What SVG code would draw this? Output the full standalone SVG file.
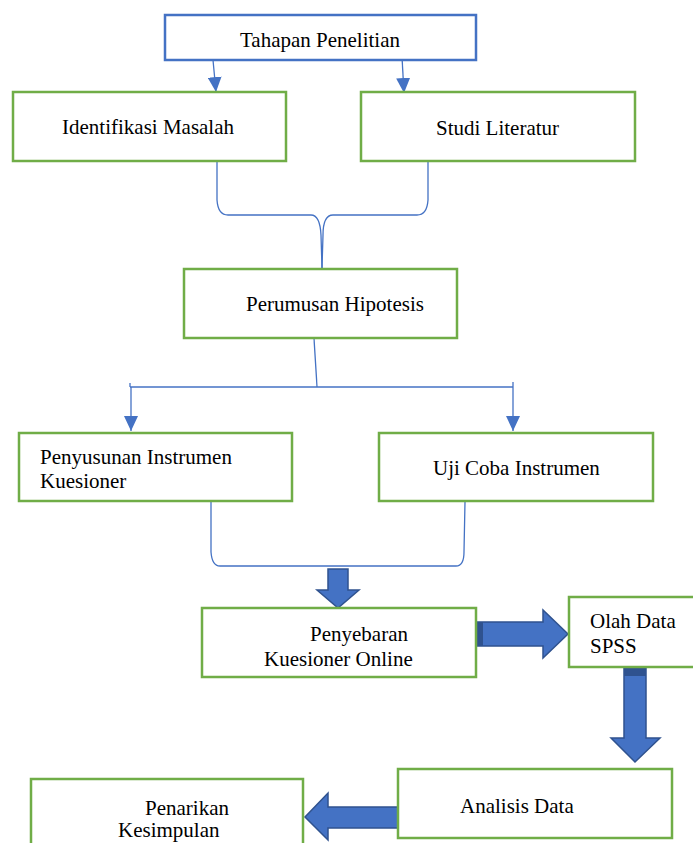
<svg xmlns="http://www.w3.org/2000/svg" width="693" height="843" viewBox="0 0 693 843">
<style>
.box{fill:#fff;stroke:#70AD47;stroke-width:2.5}
.bbox{fill:#fff;stroke:#4472C4;stroke-width:2.5}
.t{font-family:"Liberation Serif","Times New Roman","DejaVu Serif",serif;font-size:21px;fill:#000}
.ln{fill:none;stroke:#4472C4;stroke-width:1.3}
.blk{fill:#4472C4;stroke:#2F528F;stroke-width:1.5}
.dk{fill:#2F528F}
</style>
<defs>
<marker id="ah" markerWidth="16" markerHeight="14" refX="15" refY="7" orient="auto" markerUnits="userSpaceOnUse">
<path d="M0,0 L15,7 L0,14 Z" fill="#4472C4"/>
</marker>
</defs>
<rect width="693" height="843" fill="#fff"/>
<g id="connectors">
<line class="ln" x1="213" y1="60" x2="216" y2="92" marker-end="url(#ah)"/>
<line class="ln" x1="402" y1="57" x2="404" y2="93" marker-end="url(#ah)"/>
<path class="ln" d="M217,161 L217,200 Q218,215 228,215 L311,215 Q320,215 321,235 L322,268"/>
<path class="ln" d="M428,161 L428,200 Q427,215 417,215 L333,215 Q323,215 323,235 L322,268"/>
<line class="ln" x1="314" y1="338" x2="317" y2="387"/>
<line class="ln" x1="130" y1="387" x2="513" y2="387"/>
<line class="ln" x1="130" y1="383" x2="130" y2="387"/>
<line class="ln" x1="513" y1="382" x2="513" y2="387"/>
<line class="ln" x1="131" y1="387" x2="131" y2="431" marker-end="url(#ah)"/>
<line class="ln" x1="513" y1="387" x2="513" y2="431" marker-end="url(#ah)"/>
<path class="ln" d="M211,502 L211,552 Q212,566 220,566 L456,566 Q464,566 464,552 L465,502"/>
<path class="blk" d="M328,569 L348,569 L348,590 L359,590 L338,608 L317,590 L328,590 Z"/>
<path class="blk" d="M474,622 L543,622 L543,610 L568,634 L543,658 L543,646 L474,646 Z"/>
<rect class="dk" x="474" y="622" width="9" height="24"/>
<path class="blk" d="M624,667 L646,667 L646,738 L660,738 L635,762 L611,738 L624,738 Z"/>
<rect class="dk" x="624" y="667" width="22" height="9"/>
<path class="blk" d="M398,807 L398,828 L328,828 L328,840 L305,817 L328,793 L328,807 Z"/>
</g>
<g id="n-tahapan">
<rect class="bbox" x="165" y="15" width="311" height="45"/>
<text class="t" x="320" y="47" text-anchor="middle">Tahapan Penelitian</text>
</g>
<g id="n-identifikasi">
<rect class="box" x="13" y="92" width="273" height="69"/>
<text class="t" x="62" y="134">Identifikasi Masalah</text>
</g>
<g id="n-studi">
<rect class="box" x="361" y="92" width="274" height="69"/>
<text class="t" x="436" y="135">Studi Literatur</text>
</g>
<g id="n-perumusan">
<rect class="box" x="184" y="269" width="273" height="69"/>
<text class="t" x="246" y="311">Perumusan Hipotesis</text>
</g>
<g id="n-penyusunan">
<rect class="box" x="19" y="433" width="273" height="68"/>
<text class="t" x="40" y="464">Penyusunan Instrumen</text>
<text class="t" x="40" y="488">Kuesioner</text>
</g>
<g id="n-ujicoba">
<rect class="box" x="379" y="433" width="274" height="68"/>
<text class="t" x="433" y="475">Uji Coba Instrumen</text>
</g>
<g id="n-penyebaran">
<rect class="box" x="202" y="608" width="274" height="69"/>
<text class="t" x="310" y="641">Penyebaran</text>
<text class="t" x="264" y="666">Kuesioner Online</text>
</g>
<g id="n-olah">
<rect class="box" x="569" y="597" width="130" height="70"/>
<text class="t" x="590" y="628">Olah Data</text>
<text class="t" x="590" y="653">SPSS</text>
</g>
<g id="n-analisis">
<rect class="box" x="398" y="769" width="274" height="69"/>
<text class="t" x="460" y="813">Analisis Data</text>
</g>
<g id="n-penarikan">
<rect class="box" x="31" y="779" width="272" height="75"/>
<text class="t" x="145" y="815">Penarikan</text>
<text class="t" x="118" y="837">Kesimpulan</text>
</g>
</svg>
